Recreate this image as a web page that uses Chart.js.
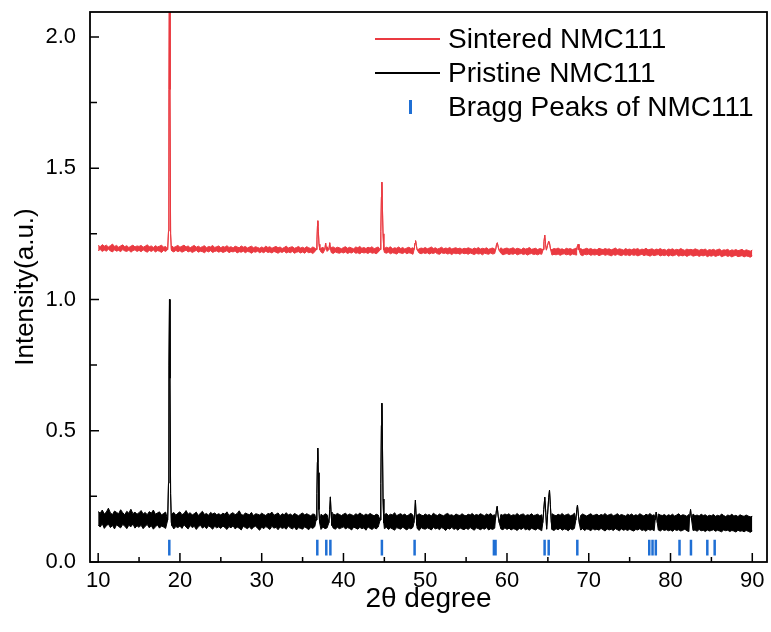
<!DOCTYPE html>
<html>
<head>
<meta charset="utf-8">
<script src="https://cdn.jsdelivr.net/npm/chart.js@4"></script>
<style>
  body { margin: 0; background: #fff; }
  #wrap { position: relative; width: 771px; height: 632px; font-family: "Liberation Sans", Arial, sans-serif; }
  #legend { position: absolute; left: 0; top: 0; }
  .item { position: absolute; left: 375px; height: 34px; width: 392px; font-size: 28px; color: #000; }
  .item .label { position: absolute; left: 73px; top: 50%; transform: translateY(-50%); white-space: nowrap; }
  .item .sw-line { position: absolute; left: 0; top: 50%; width: 65px; height: 1.5px; margin-top: -1px; }
  .item .sw-bar { position: absolute; left: 34px; top: 50%; width: 2.5px; height: 14px; margin-top: -7px; }
</style>
</head>
<body>
<div id="wrap">
  <canvas id="xrd"></canvas>
  <div id="legend"></div>
</div>
<script>
// 2θ sampling grid of the noise band edges (10° to 90°, every 0.25°)
const gridStart = 10;
const gridStep = 0.25;

// Pristine NMC111: upper and lower edge of the noisy background (a.u.), one row = 5°
const pristineUpper = [
  0.192,0.186,0.198,0.183,0.190,0.205,0.187,0.181,0.194,0.189,0.184,0.199,0.188,0.180,0.193,0.186,0.201,0.184,0.190,0.182,
  0.188,0.196,0.183,0.189,0.180,0.192,0.186,0.198,0.182,0.187,0.191,0.179,0.185,0.190,0.190,0.185,0.183,0.189,0.178,0.186,
  0.191,0.180,0.185,0.196,0.182,0.188,0.179,0.184,0.190,0.177,0.186,0.193,0.181,0.185,0.178,0.189,0.183,0.187,0.180,0.184,
  0.179,0.186,0.182,0.191,0.177,0.184,0.188,0.180,0.185,0.195,0.181,0.178,0.187,0.183,0.180,0.189,0.176,0.184,0.182,0.179,
  0.186,0.181,0.177,0.185,0.183,0.190,0.178,0.182,0.187,0.176,0.184,0.180,0.188,0.179,0.183,0.177,0.185,0.181,0.176,0.182,
  0.187,0.179,0.184,0.180,0.176,0.183,0.181,0.189,0.178,0.182,0.176,0.184,0.180,0.186,0.177,0.183,0.179,0.185,0.181,0.177,
  0.182,0.186,0.178,0.183,0.180,0.176,0.184,0.179,0.187,0.181,0.177,0.183,0.178,0.185,0.180,0.176,0.182,0.179,0.184,0.178,
  0.180,0.185,0.177,0.182,0.179,0.188,0.176,0.181,0.184,0.178,0.183,0.175,0.180,0.186,0.178,0.182,0.177,0.184,0.179,0.176,
  0.183,0.178,0.181,0.175,0.186,0.180,0.177,0.183,0.179,0.176,0.182,0.185,0.178,0.180,0.175,0.183,0.179,0.177,0.184,0.178,
  0.176,0.182,0.179,0.185,0.177,0.181,0.178,0.184,0.180,0.176,0.183,0.179,0.185,0.177,0.180,0.182,0.176,0.181,0.178,0.183,
  0.179,0.184,0.176,0.180,0.178,0.185,0.177,0.181,0.183,0.176,0.180,0.178,0.184,0.177,0.179,0.182,0.176,0.180,0.183,0.178,
  0.181,0.177,0.184,0.179,0.176,0.182,0.178,0.185,0.177,0.180,0.183,0.176,0.179,0.186,0.178,0.181,0.177,0.183,0.179,0.175,
  0.180,0.184,0.177,0.179,0.182,0.176,0.181,0.178,0.185,0.177,0.180,0.183,0.176,0.179,0.184,0.177,0.181,0.178,0.175,0.182,
  0.178,0.183,0.176,0.180,0.177,0.184,0.179,0.175,0.182,0.178,0.185,0.177,0.180,0.176,0.183,0.179,0.177,0.181,0.175,0.180,
  0.177,0.182,0.175,0.179,0.184,0.176,0.180,0.178,0.174,0.181,0.177,0.183,0.176,0.179,0.175,0.182,0.177,0.180,0.174,0.178,
  0.176,0.181,0.174,0.178,0.175,0.183,0.177,0.173,0.179,0.176,0.182,0.175,0.178,0.173,0.180,0.176,0.174,0.179,0.175,0.172,
  0.174
];
const pristineLower = [
  0.141,0.133,0.146,0.128,0.138,0.144,0.131,0.139,0.126,0.142,0.135,0.130,0.143,0.137,0.127,0.140,0.134,0.145,0.129,0.138,
  0.132,0.140,0.127,0.136,0.143,0.130,0.138,0.125,0.134,0.141,0.129,0.137,0.133,0.128,0.130,0.132,0.139,0.126,0.135,0.131,
  0.137,0.128,0.142,0.133,0.126,0.139,0.131,0.136,0.124,0.134,0.140,0.129,0.135,0.127,0.138,0.132,0.125,0.136,0.130,0.134,
  0.128,0.137,0.131,0.124,0.135,0.130,0.138,0.126,0.133,0.129,0.122,0.136,0.131,0.127,0.134,0.125,0.132,0.137,0.128,0.121,
  0.133,0.127,0.135,0.130,0.124,0.136,0.129,0.132,0.123,0.134,0.128,0.131,0.125,0.137,0.130,0.126,0.133,0.122,0.131,0.128,
  0.125,0.134,0.129,0.123,0.132,0.128,0.135,0.126,0.131,0.124,0.133,0.127,0.130,0.122,0.134,0.129,0.125,0.132,0.127,0.130,
  0.134,0.126,0.131,0.128,0.122,0.133,0.129,0.125,0.132,0.127,0.130,0.121,0.134,0.128,0.124,0.131,0.126,0.133,0.123,0.129,
  0.127,0.132,0.124,0.130,0.126,0.121,0.131,0.128,0.125,0.133,0.127,0.122,0.130,0.126,0.132,0.124,0.129,0.120,0.131,0.127,
  0.125,0.130,0.127,0.122,0.132,0.126,0.129,0.123,0.131,0.127,0.120,0.129,0.125,0.132,0.124,0.128,0.121,0.130,0.126,0.123,
  0.129,0.124,0.131,0.126,0.121,0.130,0.127,0.123,0.128,0.125,0.131,0.122,0.127,0.124,0.129,0.120,0.128,0.126,0.123,0.130,
  0.124,0.129,0.122,0.127,0.125,0.120,0.128,0.124,0.130,0.123,0.126,0.121,0.129,0.125,0.122,0.128,0.124,0.119,0.127,0.125,
  0.122,0.128,0.124,0.120,0.127,0.123,0.129,0.121,0.126,0.124,0.119,0.127,0.123,0.128,0.121,0.125,0.122,0.127,0.120,0.126,
  0.124,0.119,0.127,0.122,0.125,0.121,0.128,0.123,0.118,0.126,0.122,0.125,0.120,0.127,0.123,0.119,0.126,0.121,0.124,0.120,
  0.125,0.121,0.118,0.124,0.122,0.127,0.120,0.123,0.117,0.125,0.121,0.124,0.119,0.126,0.122,0.118,0.124,0.120,0.123,0.119,
  0.122,0.117,0.124,0.120,0.123,0.118,0.121,0.125,0.119,0.116,0.123,0.120,0.122,0.117,0.124,0.119,0.121,0.116,0.122,0.118,
  0.120,0.123,0.117,0.121,0.118,0.115,0.122,0.119,0.121,0.116,0.120,0.118,0.114,0.121,0.117,0.119,0.115,0.120,0.117,0.113,
  0.118
];

// Sintered NMC111: upper and lower edge of the noisy background (a.u.)
const sinteredUpper = [
  1.206,1.201,1.209,1.203,1.207,1.200,1.205,1.211,1.202,1.206,1.199,1.204,1.208,1.201,1.205,1.198,1.203,1.207,1.200,1.204,
  1.202,1.206,1.199,1.203,1.208,1.201,1.204,1.198,1.205,1.200,1.203,1.207,1.199,1.202,1.200,1.200,1.204,1.198,1.202,1.206,
  1.199,1.203,1.207,1.200,1.204,1.197,1.202,1.206,1.199,1.203,1.198,1.201,1.205,1.197,1.202,1.200,1.206,1.198,1.201,1.204,
  1.197,1.202,1.199,1.205,1.198,1.201,1.196,1.203,1.200,1.197,1.204,1.199,1.202,1.196,1.200,1.203,1.197,1.201,1.198,1.195,
  1.200,1.196,1.203,1.198,1.201,1.195,1.199,1.202,1.197,1.200,1.194,1.198,1.203,1.196,1.199,1.201,1.195,1.198,1.202,1.196,
  1.199,1.195,1.201,1.197,1.194,1.200,1.196,1.202,1.198,1.195,1.199,1.196,1.201,1.194,1.198,1.200,1.195,1.199,1.197,1.193,
  1.198,1.201,1.195,1.199,1.196,1.193,1.200,1.197,1.202,1.195,1.198,1.194,1.199,1.196,1.201,1.193,1.197,1.200,1.195,1.198,
  1.194,1.199,1.196,1.201,1.193,1.197,1.195,1.200,1.194,1.198,1.192,1.196,1.199,1.194,1.197,1.195,1.200,1.193,1.196,1.194,
  1.198,1.193,1.196,1.200,1.194,1.197,1.192,1.195,1.199,1.193,1.196,1.194,1.198,1.192,1.195,1.197,1.193,1.196,1.191,1.195,
  1.193,1.197,1.194,1.191,1.196,1.193,1.198,1.192,1.195,1.193,1.197,1.191,1.194,1.196,1.192,1.195,1.193,1.197,1.191,1.194,
  1.196,1.192,1.194,1.197,1.191,1.195,1.193,1.190,1.196,1.192,1.194,1.198,1.191,1.193,1.195,1.190,1.194,1.192,1.196,1.191,
  1.193,1.195,1.190,1.194,1.192,1.196,1.191,1.193,1.189,1.195,1.192,1.194,1.190,1.193,1.196,1.191,1.194,1.190,1.192,1.195,
  1.191,1.194,1.190,1.192,1.189,1.195,1.192,1.190,1.194,1.191,1.193,1.189,1.192,1.196,1.190,1.193,1.191,1.188,1.194,1.190,
  1.192,1.189,1.193,1.191,1.194,1.188,1.192,1.190,1.195,1.189,1.191,1.193,1.188,1.192,1.190,1.194,1.189,1.191,1.187,1.192,
  1.190,1.193,1.188,1.191,1.189,1.194,1.190,1.187,1.192,1.189,1.191,1.188,1.193,1.190,1.187,1.191,1.189,1.192,1.186,1.190,
  1.188,1.191,1.187,1.190,1.192,1.186,1.189,1.188,1.191,1.185,1.189,1.187,1.190,1.186,1.188,1.191,1.185,1.189,1.187,1.184,
  1.188
];
const sinteredLower = [
  1.186,1.190,1.183,1.188,1.184,1.191,1.185,1.181,1.189,1.184,1.187,1.182,1.190,1.185,1.183,1.188,1.180,1.186,1.189,1.183,
  1.187,1.182,1.189,1.184,1.180,1.187,1.183,1.188,1.181,1.186,1.184,1.179,1.187,1.183,1.180,1.180,1.185,1.181,1.187,1.182,
  1.186,1.180,1.184,1.188,1.181,1.185,1.179,1.183,1.187,1.180,1.184,1.182,1.178,1.185,1.181,1.186,1.179,1.183,1.185,1.180,
  1.184,1.179,1.182,1.186,1.178,1.183,1.181,1.185,1.177,1.182,1.180,1.184,1.178,1.183,1.181,1.176,1.182,1.180,1.184,1.178,
  1.182,1.178,1.184,1.179,1.181,1.177,1.183,1.180,1.176,1.182,1.179,1.184,1.177,1.181,1.178,1.183,1.176,1.180,1.182,1.177,
  1.181,1.176,1.183,1.178,1.180,1.175,1.182,1.179,1.177,1.181,1.176,1.180,1.183,1.177,1.179,1.175,1.181,1.178,1.176,1.180,
  1.177,1.181,1.175,1.179,1.177,1.182,1.176,1.178,1.174,1.180,1.177,1.179,1.175,1.181,1.176,1.178,1.174,1.180,1.177,1.175,
  1.179,1.176,1.180,1.174,1.178,1.176,1.173,1.179,1.177,1.175,1.180,1.174,1.178,1.176,1.172,1.179,1.175,1.177,1.174,1.178,
  1.175,1.178,1.173,1.177,1.175,1.179,1.174,1.172,1.178,1.175,1.177,1.173,1.176,1.171,1.177,1.174,1.176,1.172,1.178,1.174,
  1.176,1.172,1.177,1.174,1.171,1.176,1.173,1.175,1.170,1.176,1.174,1.172,1.177,1.173,1.175,1.171,1.174,1.176,1.170,1.173,
  1.175,1.171,1.174,1.172,1.176,1.170,1.173,1.175,1.171,1.174,1.169,1.173,1.175,1.171,1.173,1.170,1.174,1.172,1.169,1.173,
  1.171,1.174,1.169,1.172,1.170,1.173,1.168,1.172,1.174,1.170,1.172,1.168,1.173,1.171,1.169,1.173,1.170,1.167,1.172,1.170,
  1.173,1.168,1.171,1.169,1.172,1.167,1.170,1.173,1.168,1.171,1.169,1.166,1.171,1.168,1.172,1.169,1.167,1.171,1.168,1.170,
  1.167,1.171,1.168,1.170,1.166,1.169,1.172,1.167,1.170,1.168,1.165,1.170,1.167,1.169,1.171,1.166,1.169,1.167,1.170,1.165,
  1.169,1.166,1.168,1.171,1.165,1.168,1.166,1.169,1.164,1.168,1.170,1.165,1.167,1.169,1.164,1.168,1.166,1.169,1.163,1.167,
  1.165,1.168,1.164,1.167,1.169,1.163,1.166,1.168,1.164,1.167,1.162,1.166,1.168,1.163,1.165,1.167,1.162,1.166,1.164,1.161,
  1.166
];

// Diffraction peaks as [2θ, intensity] profiles; they replace the band inside their range
const pristinePeaks = [
  [[18.5,0.16],[18.6,0.3],[18.66,0.75],[18.72,1.0],[18.78,0.7],[18.86,0.26],[18.95,0.15]],
  [[36.65,0.16],[36.75,0.26],[36.81,0.38],[36.86,0.434],[36.92,0.34],[37.0,0.2],[37.08,0.15]],
  [[38.22,0.15],[38.32,0.2],[38.4,0.248],[38.48,0.19],[38.58,0.14]],
  [[44.48,0.16],[44.57,0.3],[44.64,0.52],[44.7,0.605],[44.76,0.48],[44.84,0.24],[44.93,0.15]],
  [[48.62,0.15],[48.72,0.19],[48.8,0.236],[48.88,0.18],[48.98,0.14]],
  [[58.58,0.16],[58.7,0.195],[58.8,0.212],[58.92,0.175],[59.05,0.15]],
  [[64.38,0.15],[64.5,0.2],[64.62,0.247],[64.74,0.19],[64.85,0.125],[64.96,0.18],[65.1,0.245],[65.2,0.274],[65.3,0.22],[65.42,0.15]],
  [[68.42,0.16],[68.54,0.2],[68.62,0.217],[68.74,0.175],[68.86,0.145]],
  [[78.12,0.16],[78.25,0.19],[78.38,0.15]],
  [[82.32,0.165],[82.45,0.2],[82.58,0.16]]
];

const sinteredPeaks = [
  [[18.5,1.19],[18.6,1.26],[18.66,1.8],[18.72,2.4],[18.78,1.8],[18.86,1.25],[18.95,1.19]],
  [[36.67,1.19],[36.76,1.23],[36.82,1.28],[36.87,1.30],[36.93,1.26],[37.01,1.21],[37.1,1.19]],
  [[37.72,1.19],[37.82,1.215],[37.92,1.19]],
  [[38.22,1.19],[38.32,1.216],[38.42,1.19]],
  [[44.48,1.19],[44.57,1.26],[44.64,1.39],[44.7,1.447],[44.76,1.36],[44.84,1.25],[44.93,1.19]],
  [[48.64,1.19],[48.75,1.215],[48.82,1.224],[48.92,1.205],[49.02,1.188]],
  [[58.62,1.19],[58.72,1.21],[58.82,1.216],[58.94,1.198],[59.06,1.186]],
  [[64.42,1.19],[64.52,1.22],[64.62,1.245],[64.72,1.21],[64.82,1.188],[64.95,1.205],[65.1,1.222],[65.2,1.215],[65.33,1.19]],
  [[68.52,1.188],[68.62,1.205],[68.7,1.21],[68.8,1.19]]
];

// Bragg reflections of NMC111 (2θ) and the height band of the markers
const braggPositions = [18.7, 36.8, 37.9, 38.4, 44.7, 48.7, 58.4, 58.6, 64.6, 65.1, 68.6,
  77.4, 77.8, 78.2, 81.1, 82.5, 84.5, 85.4];
const braggLow = 0.025;
const braggHigh = 0.085;

// Axis ticks
const xTickValues = [10, 20, 30, 40, 50, 60, 70, 80, 90];
const xMinorValues = [15, 25, 35, 45, 55, 65, 75, 85];
const yTickValues = [0, 0.5, 1.0, 1.5, 2.0];
const yMinorValues = [0.25, 0.75, 1.25, 1.75];

const legendItems = [
  { label: "Sintered NMC111", color: "#ea3a41", kind: "line" },
  { label: "Pristine NMC111", color: "#000000", kind: "line" },
  { label: "Bragg Peaks of NMC111", color: "#1f6fd4", kind: "bar" }
];

function buildEdge(edge, peaks) {
  let pts = edge.map((v, i) => ({ x: gridStart + i * gridStep, y: v }));
  peaks.forEach(pk => {
    const lo = pk[0][0], hi = pk[pk.length - 1][0];
    pts = pts.filter(p => p.x < lo || p.x > hi);
    pk.forEach(([x, y]) => pts.push({ x, y }));
  });
  return pts.sort((a, b) => a.x - b.x);
}

function buildBragg() {
  const pts = [];
  braggPositions.forEach(x => {
    pts.push({ x, y: braggLow }, { x, y: braggHigh }, { x, y: null });
  });
  return pts;
}

// Inward ticks and the closed frame
const frameTicks = {
  id: 'frameTicks',
  afterDatasetsDraw(chart) {
    const { ctx, chartArea: a, scales: { x, y } } = chart;
    ctx.save();
    ctx.strokeStyle = '#000';
    ctx.lineWidth = 1.5;
    ctx.beginPath();
    xTickValues.forEach(v => { const p = x.getPixelForValue(v); ctx.moveTo(p, a.bottom); ctx.lineTo(p, a.bottom - 9); });
    xMinorValues.forEach(v => { const p = x.getPixelForValue(v); ctx.moveTo(p, a.bottom); ctx.lineTo(p, a.bottom - 5); });
    yTickValues.forEach(v => { const p = y.getPixelForValue(v); ctx.moveTo(a.left, p); ctx.lineTo(a.left + 9, p); });
    yMinorValues.forEach(v => { const p = y.getPixelForValue(v); ctx.moveTo(a.left, p); ctx.lineTo(a.left + 7, p); });
    ctx.stroke();
    ctx.lineWidth = 1.8;
    ctx.strokeRect(a.left, a.top, a.right - a.left, a.bottom - a.top);
    ctx.restore();
  }
};

const font = '"Liberation Sans", Arial, sans-serif';
const red = '#ea3a41';

new Chart(document.getElementById('xrd'), {
  type: 'line',
  data: {
    datasets: [
      { label: 'Sintered NMC111', data: buildEdge(sinteredUpper, sinteredPeaks), borderColor: red, borderWidth: 1, fill: false },
      { label: 'Sintered NMC111 (lower)', data: buildEdge(sinteredLower, sinteredPeaks), borderColor: red, borderWidth: 1, fill: '-1', backgroundColor: red },
      { label: 'Pristine NMC111', data: buildEdge(pristineUpper, pristinePeaks), borderColor: '#000', borderWidth: 1, fill: false },
      { label: 'Pristine NMC111 (lower)', data: buildEdge(pristineLower, pristinePeaks), borderColor: '#000', borderWidth: 1, fill: '-1', backgroundColor: '#000' },
      { label: 'Bragg Peaks of NMC111', data: buildBragg(), borderColor: '#1f6fd4', borderWidth: 2.5, spanGaps: false, fill: false }
    ]
  },
  options: {
    responsive: true,
    maintainAspectRatio: false,
    animation: false,
    parsing: false,
    layout: { padding: { top: 12, right: 4, left: 0, bottom: 0 } },
    elements: { point: { radius: 0 }, line: { tension: 0 } },
    plugins: { legend: { display: false }, tooltip: { enabled: false } },
    scales: {
      x: {
        type: 'linear',
        min: 9,
        max: 91.8,
        afterBuildTicks: s => { s.ticks = xTickValues.map(v => ({ value: v })); },
        afterFit: s => { s.height = 70; s.paddingLeft = 0; s.paddingRight = 0; },
        grid: { display: false, drawTicks: false },
        border: { display: false },
        ticks: { padding: 6, color: '#000', font: { family: font, size: 22 }, maxRotation: 0 },
        title: { display: true, text: '2θ degree', color: '#000', font: { family: font, size: 28 }, padding: { top: 0, bottom: 16 } }
      },
      y: {
        min: 0,
        max: 2.095,
        afterBuildTicks: s => { s.ticks = yTickValues.map(v => ({ value: v })); },
        afterFit: s => { s.width = 90; s.paddingTop = 0; s.paddingBottom = 0; },
        grid: { display: false, drawTicks: false },
        border: { display: false },
        ticks: { padding: 14, color: '#000', font: { family: font, size: 22 }, callback: v => v.toFixed(1) },
        title: { display: true, text: 'Intensity(a.u.)', color: '#000', font: { family: font, size: 26 }, padding: { top: 10, bottom: 0 } }
      }
    }
  },
  plugins: [frameTicks]
});

// Legend written as text over the top right of the plot
const legendRowsTop = [22, 56, 90];
const legendEl = document.getElementById('legend');
legendItems.forEach((it, i) => {
  const row = document.createElement('div');
  row.className = 'item';
  row.style.top = legendRowsTop[i] + 'px';
  const sw = document.createElement('span');
  sw.className = it.kind === 'line' ? 'sw-line' : 'sw-bar';
  sw.style.background = it.color;
  const tx = document.createElement('span');
  tx.className = 'label';
  tx.textContent = it.label;
  row.appendChild(sw);
  row.appendChild(tx);
  legendEl.appendChild(row);
});
</script>
</body>
</html>
